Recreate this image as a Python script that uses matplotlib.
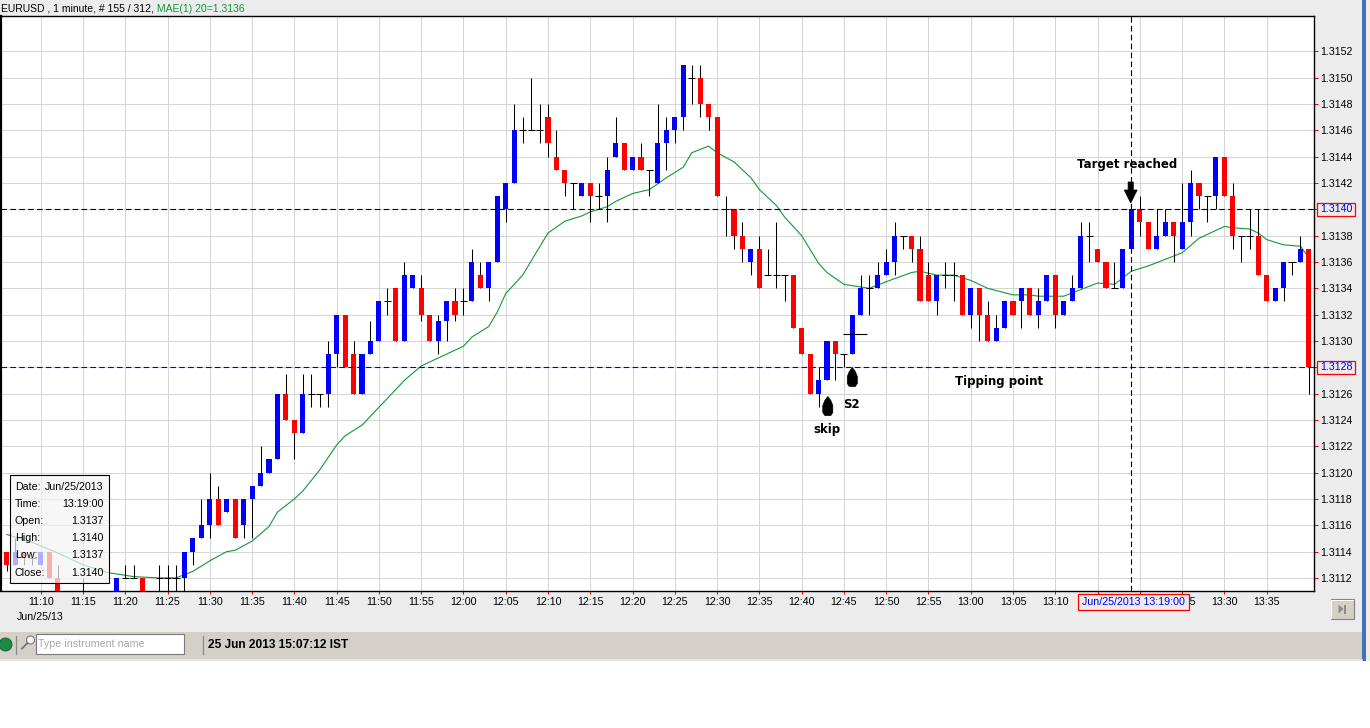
import numpy as np
import matplotlib
matplotlib.use("Agg")
import matplotlib.pyplot as plt
from matplotlib.patches import Rectangle, Polygon, Circle

plt.rcParams["font.family"] = ["Liberation Sans", "DejaVu Sans"]

nan = np.nan

# ---- EURUSD 1-minute bars, first bar at 11:06 (nan = below the visible range) ----
first_bar = "11:06"
opens = [
    1.3114, 1.3113, 1.3114, 1.31135, 1.3113, 1.3114, 1.3112, nan, nan, 1.3110,
    nan, nan, nan, 1.3110, 1.3112, 1.3112, 1.3112, nan, 1.3112, 1.3112,
    1.3112, 1.3112, 1.3114, 1.3115, 1.3116, 1.3118, 1.3117, 1.3118, 1.3116, 1.3118,
    1.3119, 1.3120, 1.3121, 1.3126, 1.3124, 1.3123, 1.3126, 1.3126, 1.3126, 1.3129,
    1.3132, 1.3129, 1.3126, 1.3129, 1.3130, 1.3133, 1.3134, 1.3130, 1.3134, 1.3134,
    1.3132, 1.3130, 1.31315, 1.3133, 1.3133, 1.3133, 1.3135, 1.3134, 1.3136, 1.3140,
    1.3142, 1.3146, 1.3146, 1.3146, 1.3147, 1.3144, 1.3143, 1.3142, 1.3141, 1.3142,
    1.3141, 1.3141, 1.3144, 1.3145, 1.3143, 1.3144, 1.3143, 1.3142, 1.3145, 1.3146,
    1.3147, 1.3150, 1.3150, 1.3148, 1.3147, 1.3140, 1.3140, 1.3138, 1.3136, 1.3137,
    1.3135, 1.3135, 1.3135, 1.3135, 1.3131, 1.3129, 1.3126, 1.3127, 1.3130, 1.3129,
    1.3129, 1.3132, 1.3134, 1.3134, 1.3135, 1.3136, 1.3138, 1.3138, 1.3137, 1.3135,
    1.3133, 1.3135, 1.3135, 1.3135, 1.3132, 1.3134, 1.3132, 1.3130, 1.3131, 1.3133,
    1.3133, 1.3134, 1.3132, 1.3133, 1.3135, 1.3132, 1.3133, 1.3134, 1.3138, 1.3137,
    1.3136, 1.3134, 1.3134, 1.3137, 1.3140, 1.3139, 1.3137, 1.3138, 1.3139, 1.3137,
    1.3139, 1.3142, 1.3141, 1.3141, 1.3144, 1.3141, 1.3138, 1.3138, 1.3138, 1.3135,
    1.3133, 1.3134, 1.3136, 1.3136, 1.3137,
]
highs = [
    1.3114, 1.3115, 1.3114, 1.31135, 1.3114, 1.3114, 1.3113, nan, nan, 1.3112,
    nan, nan, nan, 1.3112, 1.3113, 1.3113, 1.3112, nan, 1.3113, 1.3113,
    1.3113, 1.3114, 1.3115, 1.3118, 1.3120, 1.3119, 1.3118, 1.3118, 1.3118, 1.3119,
    1.3122, 1.3121, 1.3126, 1.31275, 1.3124, 1.31275, 1.31275, 1.3126, 1.3130, 1.3132,
    1.3132, 1.3130, 1.3129, 1.31315, 1.3133, 1.3134, 1.3134, 1.3136, 1.3135, 1.3135,
    1.3132, 1.3132, 1.3133, 1.3134, 1.3134, 1.3137, 1.3136, 1.3136, 1.3141, 1.3142,
    1.3148, 1.3147, 1.3150, 1.3148, 1.3148, 1.3146, 1.3143, 1.3142, 1.3142, 1.3142,
    1.3142, 1.3144, 1.3147, 1.3145, 1.3144, 1.3145, 1.3143, 1.3148, 1.3147, 1.3147,
    1.3151, 1.3151, 1.3151, 1.3148, 1.3147, 1.3141, 1.3140, 1.3139, 1.3137, 1.3138,
    1.3137, 1.3139, 1.3135, 1.3135, 1.3131, 1.3129, 1.3128, 1.3130, 1.3130, 1.3129,
    1.3132, 1.3135, 1.3135, 1.3136, 1.3137, 1.3139, 1.3138, 1.3138, 1.3138, 1.3136,
    1.3135, 1.3136, 1.3136, 1.3135, 1.3134, 1.3134, 1.3133, 1.3132, 1.3133, 1.3133,
    1.3134, 1.3134, 1.3134, 1.3135, 1.3135, 1.3133, 1.3135, 1.3139, 1.3139, 1.3137,
    1.3136, 1.3136, 1.3137, 1.3140, 1.3141, 1.3139, 1.3140, 1.3140, 1.3139, 1.3142,
    1.3143, 1.3142, 1.3141, 1.3144, 1.3144, 1.3142, 1.3138, 1.3140, 1.3140, 1.3135,
    1.3134, 1.3136, 1.3136, 1.3138, 1.3137,
]
lows = [
    1.31125, 1.3113, 1.3113, 1.3113, 1.3113, 1.3112, 1.3110, nan, nan, 1.3109,
    nan, nan, nan, 1.3110, 1.3112, 1.3112, 1.3110, nan, 1.3110, 1.3110,
    1.3110, 1.3110, 1.3113, 1.3115, 1.3115, 1.3116, 1.3117, 1.3115, 1.3115, 1.3115,
    1.3119, 1.3120, 1.3121, 1.3124, 1.3121, 1.3123, 1.3125, 1.3125, 1.3125, 1.3128,
    1.3128, 1.3126, 1.3126, 1.3129, 1.3130, 1.3132, 1.3130, 1.3130, 1.3134, 1.31315,
    1.3130, 1.3129, 1.3130, 1.31315, 1.3132, 1.3133, 1.3134, 1.3133, 1.3136, 1.3139,
    1.3142, 1.3145, 1.3146, 1.3145, 1.3144, 1.3143, 1.3141, 1.3140, 1.3141, 1.3139,
    1.3140, 1.3139, 1.3144, 1.3143, 1.3143, 1.3143, 1.3141, 1.3142, 1.3143, 1.3145,
    1.3146, 1.3148, 1.3147, 1.3146, 1.3141, 1.3138, 1.3137, 1.3136, 1.3135, 1.3134,
    1.3135, 1.3134, 1.3133, 1.3131, 1.3129, 1.3126, 1.3125, 1.3127, 1.3127, 1.3128,
    1.3129, 1.3132, 1.3132, 1.3134, 1.3135, 1.3135, 1.3137, 1.3136, 1.3133, 1.3133,
    1.3132, 1.3134, 1.3133, 1.3132, 1.3131, 1.3130, 1.3130, 1.3130, 1.3131, 1.3132,
    1.3131, 1.3132, 1.3131, 1.3133, 1.3131, 1.3132, 1.3133, 1.3134, 1.3136, 1.3136,
    1.3134, 1.3134, 1.3134, 1.3137, 1.3138, 1.3137, 1.3137, 1.3138, 1.3136, 1.3137,
    1.3138, 1.3140, 1.3139, 1.3140, 1.3141, 1.3137, 1.3136, 1.3137, 1.3135, 1.3133,
    1.3133, 1.3133, 1.3135, 1.3136, 1.3126,
]
closes = [
    1.3113, 1.3114, 1.31135, 1.31135, 1.3114, 1.3112, 1.3110, nan, nan, 1.3110,
    nan, nan, nan, 1.3112, 1.3112, 1.3112, 1.3110, nan, 1.3112, 1.3112,
    1.3112, 1.3114, 1.3115, 1.3116, 1.3118, 1.3116, 1.3118, 1.3115, 1.3118, 1.3119,
    1.3120, 1.3121, 1.3126, 1.3124, 1.3123, 1.3126, 1.3126, 1.3126, 1.3129, 1.3132,
    1.3128, 1.3126, 1.3129, 1.3130, 1.3133, 1.3133, 1.3130, 1.3135, 1.3135, 1.3132,
    1.3130, 1.31315, 1.3133, 1.3132, 1.3133, 1.3136, 1.3134, 1.3136, 1.3141, 1.3142,
    1.3146, 1.3146, 1.3146, 1.3146, 1.3145, 1.3143, 1.3142, 1.3142, 1.3142, 1.3141,
    1.3141, 1.3143, 1.3145, 1.3143, 1.3144, 1.3143, 1.3143, 1.3145, 1.3146, 1.3147,
    1.3151, 1.3150, 1.3148, 1.3147, 1.3141, 1.3140, 1.3138, 1.3137, 1.3137, 1.3134,
    1.3135, 1.3135, 1.3135, 1.3131, 1.3129, 1.3126, 1.3127, 1.3130, 1.3129, 1.3129,
    1.3132, 1.3134, 1.3134, 1.3135, 1.3136, 1.3138, 1.3138, 1.3137, 1.3133, 1.3133,
    1.3135, 1.3135, 1.3135, 1.3132, 1.3134, 1.3132, 1.3130, 1.3131, 1.3133, 1.3132,
    1.3134, 1.3132, 1.3133, 1.3135, 1.3132, 1.3133, 1.3134, 1.3138, 1.3138, 1.3136,
    1.3134, 1.3134, 1.3137, 1.3140, 1.3139, 1.3137, 1.3138, 1.3139, 1.3138, 1.3139,
    1.3142, 1.3141, 1.3141, 1.3144, 1.3141, 1.3138, 1.3138, 1.3138, 1.3135, 1.3133,
    1.3134, 1.3136, 1.3136, 1.3137, 1.3128,
]

# moving average line (minutes after 11:10, price)
ma_minute = [-4, -1, 2, 5, 8, 11, 14, 16, 18, 20, 22, 23, 25, 27, 28, 30, 31, 33,
             35, 36, 38, 43, 45, 47, 50, 51, 53, 54, 55, 57, 60, 62, 64, 65, 67,
             68, 70, 72, 74, 76, 77, 79, 80, 82, 84, 85, 87, 88, 90, 92, 93, 95,
             98, 100, 103, 104, 106, 108, 110, 112, 115, 117, 118, 121, 123, 125,
             127, 129, 131, 133, 135, 137, 140, 141, 143, 144, 145, 147, 149, 150]
ma_value = [1.31153, 1.31147, 1.31139, 1.31130, 1.31124, 1.31121, 1.31120,
            1.31120, 1.31125, 1.31133, 1.31140, 1.31141, 1.31148, 1.31159,
            1.31170, 1.31180, 1.31186, 1.31202, 1.31221, 1.31228, 1.31236,
            1.31270, 1.31281, 1.31287, 1.31296, 1.31303, 1.31311, 1.31322,
            1.31336, 1.31350, 1.31382, 1.31391, 1.31395, 1.31398, 1.31402,
            1.31406, 1.31412, 1.31415, 1.31424, 1.31432, 1.31443, 1.31448,
            1.31443, 1.31436, 1.31424, 1.31415, 1.31403, 1.31394, 1.31380,
            1.31359, 1.31352, 1.31343, 1.31340, 1.31345, 1.31352, 1.31353,
            1.31350, 1.31350, 1.31346, 1.31340, 1.31335, 1.31335, 1.31334,
            1.31334, 1.31339, 1.31344, 1.31343, 1.31353, 1.31357, 1.31362,
            1.31367, 1.31378, 1.31387, 1.31386, 1.31385, 1.31382, 1.31377,
            1.31373, 1.31372, 1.31363]

# 13:15 and 13:20 sit under the cursor time box in the original
time_ticks = ["11:10", "11:15", "11:20", "11:25", "11:30", "11:35", "11:40",
              "11:45", "11:50", "11:55", "12:00", "12:05", "12:10", "12:15",
              "12:20", "12:25", "12:30", "12:35", "12:40", "12:45", "12:50",
              "12:55", "13:00", "13:05", "13:10", "13:15", "13:20", "13:25",
              "13:30", "13:35"]
hidden_ticks = ["13:15", "13:20"]
price_ticks = [1.3112, 1.3114, 1.3116, 1.3118, 1.3120, 1.3122, 1.3124, 1.3126,
               1.3128, 1.3130, 1.3132, 1.3134, 1.3136, 1.3138, 1.3140, 1.3142,
               1.3144, 1.3146, 1.3148, 1.3150, 1.3152]

target_level = 1.3140
tipping_level = 1.3128
cursor_time = "13:19"
s2_marker = (1.31305, 94.9, 97.7)   # price, from, to (minutes)
info_rows = [("Date:", "Jun/25/2013"), ("Time:", "13:19:00"), ("Open:", "1.3137"),
             ("High:", "1.3140"), ("Low:", "1.3137"), ("Close:", "1.3140")]

# ---- layout (pixels) ----
W, H = 1370, 728
BG = "#ececec"
X_ZERO_PX, PX_PER_MIN = 40.7, 8.455     # 11:10 position and bar spacing
Y_REF_PX, PX_PER_2PIP = 367.3, 26.33    # 1.3128 position and grid spacing
AX_L, AX_T, AX_R, AX_B = 1, 16, 1314, 591


def minutes(hhmm):
    hh, mm = hhmm.split(":")
    return int(hh) * 60 + int(mm) - (11 * 60 + 10)


def to_min(px):
    return (px - X_ZERO_PX) / PX_PER_MIN


def to_price(py):
    return 1.3128 + (Y_REF_PX - py) * 0.0002 / PX_PER_2PIP


def py(price):
    return Y_REF_PX - (price - 1.3128) / 0.0002 * PX_PER_2PIP


fig = plt.figure(figsize=(W / 100, H / 100), dpi=100)
fig.patch.set_facecolor(BG)
ax = fig.add_axes([AX_L / W, 1 - AX_B / H, (AX_R - AX_L) / W, (AX_B - AX_T) / H])
ax.set_facecolor("white")
ax.set_xlim(to_min(AX_L), to_min(AX_R))
ax.set_ylim(to_price(AX_B), to_price(AX_T))

# candles
t = np.arange(len(opens)) + minutes(first_bar)
o, hi, lo, c = (np.array(v, dtype=float) for v in (opens, highs, lows, closes))
ok = ~np.isnan(o)
up = ok & (c > o)
dn = ok & (c < o)
dj = ok & (c == o)
ax.vlines(t[ok], lo[ok], hi[ok], color="black", lw=0.75, zorder=3)
ax.bar(t[up], c[up] - o[up], bottom=o[up], width=0.6, color="#0000ff", lw=0, zorder=4)
ax.bar(t[dn], o[dn] - c[dn], bottom=c[dn], width=0.6, color="#ff0000", lw=0, zorder=4)
ax.hlines(o[dj], t[dj] - 0.42, t[dj] + 0.42, color="black", lw=0.75, zorder=4)

ax.plot(ma_minute, ma_value, color="#119933", lw=0.8, zorder=2)

dash = (0, (5, 3))
ax.axhline(target_level, color="black", lw=0.8, ls=dash, zorder=6)
ax.axhline(tipping_level, color="#0000dd", lw=0.8, ls=dash, zorder=6)
ax.axvline(minutes(cursor_time), color="black", lw=0.8, ls=dash, zorder=6)
ax.hlines(s2_marker[0], s2_marker[1], s2_marker[2], color="black", lw=0.8, zorder=6)

ax.set_xticks([minutes(s) for s in time_ticks])
ax.set_xticklabels(["" if s in hidden_ticks else s for s in time_ticks])
ax.set_yticks(price_ticks)
ax.set_yticklabels([f"{v:.4f}" for v in price_ticks])
ax.yaxis.tick_right()
ax.grid(True, color="#d6d6d6", lw=0.75)
ax.set_axisbelow(True)
ax.tick_params(axis="x", direction="out", length=2.5, width=0.75, color="red",
               labelsize=7.7, pad=2)
ax.tick_params(axis="y", direction="out", length=3, width=0.75, color="red",
               labelsize=7.7, pad=1.5)
for sp in ax.spines.values():
    sp.set_color("black")
    sp.set_linewidth(1)
ax.spines["left"].set_linewidth(1.6)

# ---- overlay in pixel coordinates ----
ov = fig.add_axes([0, 0, 1, 1], zorder=10)
ov.set_xlim(0, W)
ov.set_ylim(H, 0)
ov.axis("off")
ov.patch.set_alpha(0)

head = ov.text(1, 8.5, "EURUSD , 1 minute, # 155 / 312,", va="center", fontsize=7.5)
ov.annotate(" MAE(1) 20=1.3136", xy=(1, 0.5), xycoords=head, va="center",
            fontsize=7.5, color="#0a9a3a")
ov.text(40, 617, "Jun/25/13", ha="center", va="center", fontsize=7.7)

# info box
ov.add_patch(Rectangle((10.5, 475), 99, 107.5, fc="#f4f4f4", alpha=0.72, ec="none"))
ov.add_patch(Rectangle((10.5, 475), 99, 107.5, fc="none", ec="black", lw=0.8))
for i, (lab, val) in enumerate(info_rows):
    yy = 487 + i * 17.1
    ov.text(15, yy, lab, va="center", fontsize=7.7)
    ov.text(103.5, yy, val, va="center", ha="right", fontsize=7.7)

# crosshair value boxes
for lvl in (target_level, tipping_level):
    yc = py(lvl)
    ov.add_patch(Rectangle((1317, yc - 6.5), 38, 13, fc=BG, ec="red", lw=0.9))
    ov.text(1320, yc, f"{lvl:.4f}", va="center", fontsize=7.7, color="#0000ee")
ov.add_patch(Rectangle((1078.5, 594), 110.5, 15.5, fc=BG, ec="red", lw=0.9))
ov.text(1133.7, 601.8, "Jun/25/2013 13:19:00", ha="center", va="center",
        fontsize=7.7, color="#0000ee")

# annotations
bold = dict(fontsize=8.5, fontweight="bold", family="DejaVu Sans", color="black")
ov.text(1127, 168, "Target reached", ha="center", va="baseline", **bold)
ov.text(999, 385, "Tipping point", ha="center", va="baseline", **bold)
ov.text(851, 408, "S2", ha="center", va="baseline", **bold)
ov.text(826.5, 433, "skip", ha="center", va="baseline", **bold)


def up_arrow(cx, top):
    pts = [(cx, top), (cx + 3, top + 4), (cx + 5, top + 9), (cx + 5, top + 16),
           (cx + 3, top + 19), (cx - 3, top + 19), (cx - 5, top + 16),
           (cx - 5, top + 9), (cx - 3, top + 4)]
    ov.add_patch(Polygon(pts, closed=True, fc="black", ec="black", lw=0.5))


up_arrow(852.3, 367.5)
up_arrow(827.8, 396.5)
cx = 1130.7
ov.add_patch(Polygon([(cx - 2.6, 182), (cx + 2.6, 182), (cx + 2.6, 190),
                      (cx + 6.5, 190), (cx, 203), (cx - 6.5, 190), (cx - 2.6, 190)],
                     closed=True, fc="black", ec="black", lw=0.5))

# scroll button
ov.add_patch(Rectangle((1331, 599), 23, 19.5, fc="#d4d0c8", ec="#808080", lw=0.8))
ov.plot([1331.5, 1331.5, 1353.5], [618, 599.5, 599.5], color="white", lw=0.8)
ov.add_patch(Polygon([(1338.5, 604.5), (1343.5, 609), (1338.5, 613.5)], closed=True,
                     fc="#8c8c8c", ec="none"))
ov.add_patch(Rectangle((1344, 604.5), 2.2, 9, fc="#8c8c8c", ec="none"))

# status bar
ov.add_patch(Rectangle((0, 632), 1362, 27.5, fc="#d4d0c8", ec="none"))
ov.add_patch(Rectangle((0, 660.5), W, H - 660.5, fc="white", ec="none"))
ov.plot([0, 1362], [660, 660], color="#e8e6e0", lw=1.2)
ov.add_patch(Circle((5.5, 644.5), 6.5, fc="#1f8a46", ec="#0f5a2a", lw=0.6))
ov.plot([15.8, 15.8], [636, 654], color="#8a8a8a", lw=0.9)
ov.add_patch(Circle((30.5, 640), 4, fc="#f4f4f4", ec="#7a7a7a", lw=0.8))
ov.plot([22, 27.5], [648.5, 643], color="#7a7a7a", lw=1.4)
ov.add_patch(Rectangle((36, 633.5), 148, 20.5, fc="white", ec="#7a7a7a", lw=0.8))
ov.text(38, 644, "Type instrument name", va="center", fontsize=7.7, color="#a8a8a8")
ov.plot([203.5, 203.5], [636, 654], color="#8a8a8a", lw=0.9)
ov.text(208.5, 645, "25 Jun 2013 15:07:12 IST", va="center", fontsize=8.6,
        fontweight="bold")

# right window edge
ov.add_patch(Rectangle((1362, 0), 4, 661, fc="#4272b4", ec="none"))

fig.savefig("out.png", dpi=100)
